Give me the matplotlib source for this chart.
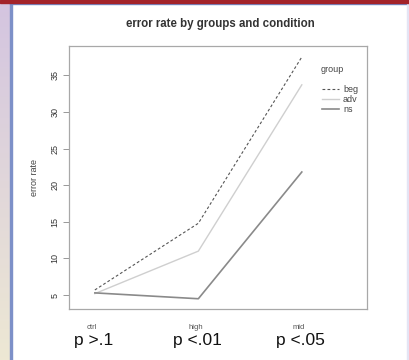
import matplotlib
matplotlib.use("Agg")
import matplotlib.pyplot as plt
import numpy as np

# data
conditions = ["ctrl", "high", "mid"]
p_labels = ["p >.1", "p <.01", "p <.05"]
groups = ["beg", "adv", "ns"]
err_beg = [5.7, 14.8, 37.5]
err_adv = [5.2, 11.0, 33.7]
err_ns = [5.3, 4.5, 21.8]
y_ticks = [5, 10, 15, 20, 25, 30, 35]

plt.rcParams["font.family"] = ["Liberation Sans", "DejaVu Sans"]

W, H = 409, 360
fig = plt.figure(figsize=(W / 100, H / 100), dpi=100)
fig.patch.set_facecolor("white")

# slide frame: gradient strip on the left, bars on top and right
strip = fig.add_axes([0, 0, 10 / W, 1])
grad = np.linspace(0, 1, 256).reshape(-1, 1)
c_top = np.array([0.83, 0.77, 0.88])
c_bot = np.array([0.93, 0.91, 0.83])
img = c_top[None, None, :] * (1 - grad[:, :, None]) + c_bot[None, None, :] * grad[:, :, None]
strip.imshow(img, aspect="auto", extent=[0, 1, 0, 1])
strip.axis("off")
fig.patches.append(plt.Rectangle((10 / W, 0), 2 / W, 1, transform=fig.transFigure,
                                 color="#7d90c8", zorder=5))
fig.patches.append(plt.Rectangle((0, 1 - 3 / H), 1, 3 / H, transform=fig.transFigure,
                                 color="#a3232a", zorder=6))
fig.patches.append(plt.Rectangle((10 / W, 1 - 4 / H), 1, 1 / H, transform=fig.transFigure,
                                 color="#6f8fd0", zorder=5))
fig.patches.append(plt.Rectangle(((W - 2) / W, 0), 2 / W, 1 - 4 / H, transform=fig.transFigure,
                                 color="#e4e4f4", zorder=5))

ax = fig.add_axes([69 / W, 1 - 309 / H, (367 - 69) / W, (309 - 46) / H])
x = np.arange(1, len(conditions) + 1)
ax.plot(x, err_beg, color="#555555", lw=0.8, ls=(0, (2.5, 2)))
ax.plot(x, err_adv, color="#cfcfcf", lw=1.0)
ax.plot(x, err_ns, color="#8a8a8a", lw=1.2)

ax.set_xlim(0.75, 3.63)
ax.set_ylim(3.1, 39.0)
ax.set_yticks(y_ticks)
ax.set_yticklabels([str(v) for v in y_ticks], rotation=90, va="center", fontsize=6.5, color="#333333")
ax.tick_params(axis="y", length=4, width=0.6, color="#888888", pad=3)
ax.set_xticks([])
for s in ax.spines.values():
    s.set_color("#a8a8a8")
    s.set_linewidth(0.9)

ax.set_ylabel("error rate", fontsize=6.5, color="#444444", labelpad=8)
fig.text(220 / W, 1 - 24 / H, "error rate by groups and condition", ha="center", va="center",
         fontsize=8.3, fontweight="bold", color="#333333")

# x category labels and p values below the axis
for xi, cond, pl in zip(x, conditions, p_labels):
    ax.annotate(cond, xy=(xi, 0), xycoords=("data", "axes fraction"), xytext=(-2, -13),
                textcoords="offset points", ha="center", va="center", fontsize=5.5, color="#555555")
    ax.annotate(pl, xy=(xi, 0), xycoords=("data", "axes fraction"), xytext=(-1, -23),
                textcoords="offset points", ha="center", va="center", fontsize=12.5, color="#111111")

# legend drawn the R way
fig.text(321 / W, 1 - 69 / H, "group", ha="left", va="center", fontsize=6.5, color="#444444")
styles = [("#555555", (0, (2.5, 2)), 0.8), ("#cfcfcf", "-", 1.0), ("#8a8a8a", "-", 1.2)]
for i, (g, (c, ls, lw)) in enumerate(zip(groups, styles)):
    yy = 1 - (89 + i * 10) / H
    fig.add_artist(plt.Line2D([322 / W, 339 / W], [yy, yy], color=c, ls=ls, lw=lw))
    fig.text(343 / W, yy, g, ha="left", va="center", fontsize=6.5, color="#444444")

fig.savefig("out.png", dpi=100)
